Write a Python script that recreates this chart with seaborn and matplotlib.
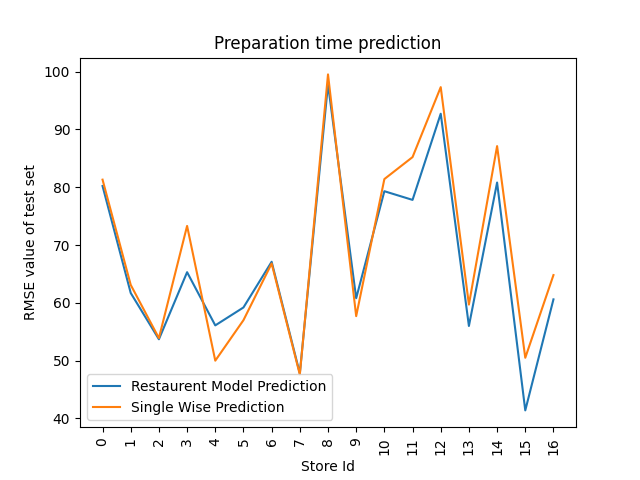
import matplotlib
matplotlib.use("Agg")
import matplotlib.pyplot as plt
import seaborn as sns

store_ids = list(range(17))
restaurant_rmse = [80.2, 61.7, 53.7, 65.3, 56.1, 59.2, 67.1, 47.8, 97.8, 60.8,
                   79.3, 77.8, 92.7, 56.0, 80.8, 41.4, 60.6]
single_rmse = [81.3, 63.1, 53.9, 73.3, 50.0, 57.0, 66.8, 47.6, 99.5, 57.7,
               81.4, 85.2, 97.3, 59.7, 87.1, 50.5, 64.8]

fig, ax = plt.subplots(figsize=(6.4, 4.8), dpi=100)
sns.lineplot(x=store_ids, y=restaurant_rmse, ax=ax, label='Restaurent Model Prediction')
sns.lineplot(x=store_ids, y=single_rmse, ax=ax, label='Single Wise Prediction')
ax.set_xticks(store_ids)
ax.set_xticklabels([str(s) for s in store_ids], rotation=90)
ax.set_title('Preparation time prediction')
ax.set_xlabel('Store Id')
ax.set_ylabel('RMSE value of test set')
ax.legend(loc='lower left')
plt.savefig('out.png')
